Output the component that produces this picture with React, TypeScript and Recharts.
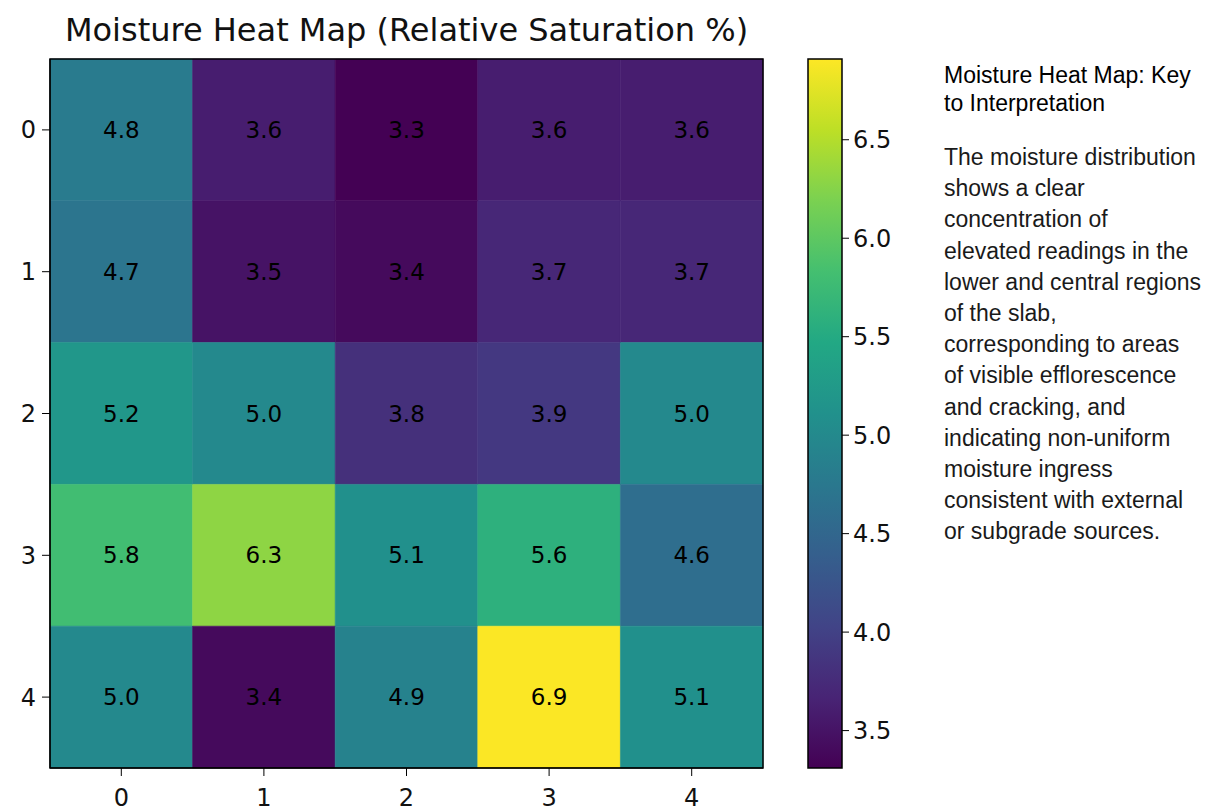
import React from 'react'
import {
  ComposedChart, XAxis, YAxis, ReferenceArea, Scatter,
} from 'recharts'

// ---- data ----
const colLabels = ['0', '1', '2', '3', '4']
const rowLabels = ['0', '1', '2', '3', '4']

// moisture readings, rows top -> bottom
const row0 = [4.8, 3.6, 3.3, 3.6, 3.6]
const row1 = [4.7, 3.5, 3.4, 3.7, 3.7]
const row2 = [5.2, 5.0, 3.8, 3.9, 5.0]
const row3 = [5.8, 6.3, 5.1, 5.6, 4.6]
const row4 = [5.0, 3.4, 4.9, 6.9, 5.1]
const moisture = [row0, row1, row2, row3, row4]

const cbarTicks = [3.5, 4.0, 4.5, 5.0, 5.5, 6.0, 6.5]
const CBAR_MIN = 3.31
const CBAR_MAX = 6.91

const keyTitle = ['Moisture Heat Map: Key', 'to Interpretation']
const keyBody = [
  'The moisture distribution',
  'shows a clear',
  'concentration of',
  'elevated readings in the',
  'lower and central regions',
  'of the slab,',
  'corresponding to areas',
  'of visible efflorescence',
  'and cracking, and',
  'indicating non-uniform',
  'moisture ingress',
  'consistent with external',
  'or subgrade sources.',
]

// viridis, 11 stops
const VIRIDIS = [
  '#440154', '#482475', '#414487', '#355f8d', '#2a788e', '#21918c',
  '#22a884', '#44bf70', '#7ad151', '#bddf26', '#fde725',
]

function hexToRgb(h: string) {
  const n = parseInt(h.slice(1), 16)
  return [(n >> 16) & 255, (n >> 8) & 255, n & 255]
}

function viridis(v: number) {
  let t = (v - CBAR_MIN) / (CBAR_MAX - CBAR_MIN)
  t = Math.max(0, Math.min(1, t))
  const pos = t * (VIRIDIS.length - 1)
  const i = Math.min(Math.floor(pos), VIRIDIS.length - 2)
  const f = pos - i
  const a = hexToRgb(VIRIDIS[i])
  const b = hexToRgb(VIRIDIS[i + 1])
  const c = a.map((x, k) => Math.round(x + (b[k] - x) * f))
  return `rgb(${c[0]},${c[1]},${c[2]})`
}

const cells = moisture.flatMap((row, r) =>
  row.map((v, c) => ({ x: c, y: r, v })),
)

const FONT = '"DejaVu Sans", sans-serif'

function CellLabel(props: any) {
  const { cx, cy, payload } = props
  return (
    <text
      x={cx}
      y={cy}
      textAnchor="middle"
      dominantBaseline="central"
      fontSize={23}
      fontFamily={FONT}
      fill="#000"
    >
      {payload.v.toFixed(1)}
    </text>
  )
}

export default function App() {
  return (
    <div style={{ position: 'absolute', left: 0, top: 0, width: 1213, height: 812, background: '#fff' }}>
      {/* title */}
      <div
        style={{
          position: 'absolute', left: 50, top: 12, width: 713,
          textAlign: 'center', fontFamily: FONT, fontSize: 32, lineHeight: '36px', color: '#111',
        }}
      >
        Moisture Heat Map (Relative Saturation %)
      </div>

      {/* heat map */}
      <div style={{ position: 'absolute', left: 0, top: 0 }}>
        <ComposedChart
          width={800}
          height={812}
          data={cells}
          margin={{ top: 59, right: 37, bottom: 0, left: 10 }}
        >
          <XAxis
            type="number"
            dataKey="x"
            domain={[-0.5, 4.5]}
            ticks={[0, 1, 2, 3, 4]}
            tickFormatter={(v) => colLabels[v]}
            height={44}
            tickSize={8}
            tickMargin={13}
            axisLine={{ stroke: '#000' }}
            tickLine={{ stroke: '#000' }}
            tick={{ fill: '#111', fontSize: 24, fontFamily: FONT }}
            allowDataOverflow
          />
          <YAxis
            type="number"
            dataKey="y"
            domain={[-0.5, 4.5]}
            reversed
            ticks={[0, 1, 2, 3, 4]}
            tickFormatter={(v) => rowLabels[v]}
            width={40}
            tickSize={8}
            tickMargin={6}
            axisLine={{ stroke: '#000' }}
            tickLine={{ stroke: '#000' }}
            tick={{ fill: '#111', fontSize: 24, fontFamily: FONT }}
            allowDataOverflow
          />
          {cells.map((c) => (
            <ReferenceArea
              key={`${c.x}-${c.y}`}
              x1={c.x - 0.5}
              x2={c.x + 0.5}
              y1={c.y - 0.5}
              y2={c.y + 0.5}
              fill={viridis(c.v)}
              fillOpacity={1}
              stroke={viridis(c.v)}
              strokeWidth={0.6}
            />
          ))}
          <ReferenceArea
            x1={-0.5}
            x2={4.5}
            y1={-0.5}
            y2={4.5}
            fill="none"
            stroke="#000"
            strokeWidth={1.5}
          />
          <Scatter data={cells} dataKey="y" shape={CellLabel} isAnimationActive={false} />
        </ComposedChart>
      </div>

      {/* colour bar */}
      <div style={{ position: 'absolute', left: 780, top: 0 }}>
        <ComposedChart
          width={130}
          height={812}
          data={cbarTicks.map((t) => ({ x: 0.5, y: t }))}
          margin={{ top: 59, right: 8, bottom: 44, left: 28 }}
        >
          <defs>
            <linearGradient id="viridisGrad" x1="0" y1="1" x2="0" y2="0">
              {VIRIDIS.map((c, i) => (
                <stop key={i} offset={`${(i / (VIRIDIS.length - 1)) * 100}%`} stopColor={c} />
              ))}
            </linearGradient>
          </defs>
          <XAxis type="number" dataKey="x" domain={[0, 1]} hide />
          <YAxis
            type="number"
            dataKey="y"
            orientation="right"
            domain={[CBAR_MIN, CBAR_MAX]}
            ticks={cbarTicks}
            tickFormatter={(v) => v.toFixed(1)}
            width={60}
            tickSize={7}
            tickMargin={4}
            axisLine={false}
            tickLine={{ stroke: '#000' }}
            tick={{ fill: '#111', fontSize: 24, fontFamily: FONT, textAnchor: 'start' }}
            allowDataOverflow
          />
          <ReferenceArea
            x1={0}
            x2={1}
            y1={CBAR_MIN}
            y2={CBAR_MAX}
            fill="url(#viridisGrad)"
            fillOpacity={1}
            stroke="#000"
            strokeWidth={1.5}
          />
        </ComposedChart>
      </div>

      {/* key text */}
      <div
        style={{
          position: 'absolute', left: 944, top: 61, width: 268,
          fontFamily: '"Liberation Sans", Arial, sans-serif', color: '#000',
        }}
      >
        {keyTitle.map((l) => (
          <div key={l} style={{ fontSize: 23, lineHeight: '28px', whiteSpace: 'nowrap' }}>{l}</div>
        ))}
        <div style={{ marginTop: 25 }}>
          {keyBody.map((l) => (
            <div key={l} style={{ fontSize: 23, lineHeight: '31.2px', whiteSpace: 'nowrap', color: '#1a1a1a' }}>{l}</div>
          ))}
        </div>
      </div>
    </div>
  )
}
